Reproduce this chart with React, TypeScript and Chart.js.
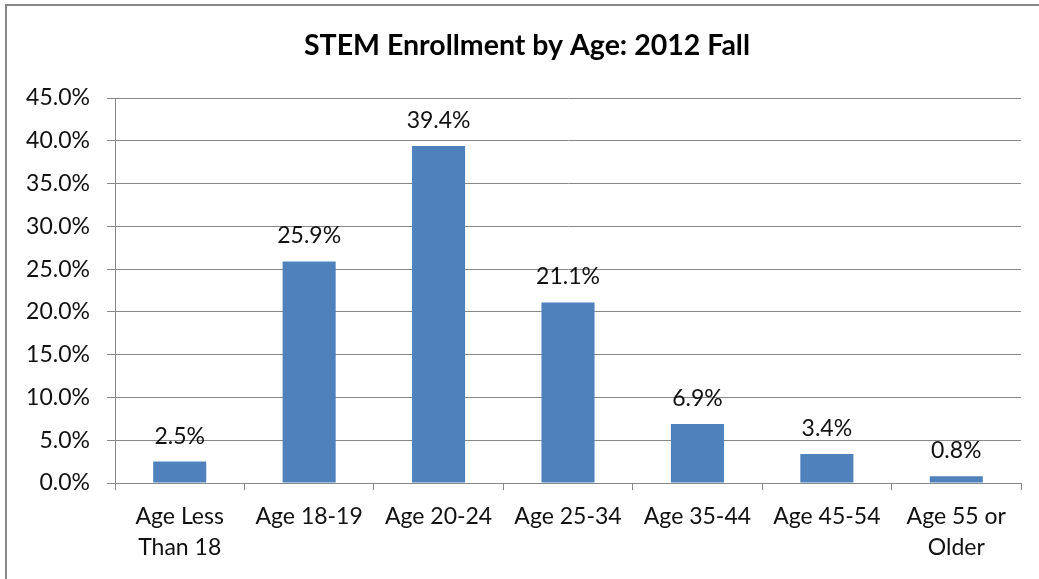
import React, { useEffect, useRef } from "react";
import { Chart, registerables } from "chart.js";

Chart.register(...registerables);

const TITLE = "STEM Enrollment by Age: 2012 Fall";
const categories: (string | string[])[] = [
  ["Age Less", "Than 18"],
  "Age 18-19",
  "Age 20-24",
  "Age 25-34",
  "Age 35-44",
  "Age 45-54",
  ["Age 55 or", "Older"],
];
const values = [2.5, 25.9, 39.4, 21.1, 6.9, 3.4, 0.8];
const yTicks = [0, 5, 10, 15, 20, 25, 30, 35, 40, 45];

const FONT = "Lato, 'Liberation Sans', sans-serif";
const TITLE_FONT = "Lato, 'Liberation Sans', sans-serif";
const GRID = "#888888";
const BAR = "#4F81BD";

export default function App() {
  const ref = useRef<HTMLCanvasElement | null>(null);

  useEffect(() => {
    if (!ref.current) return;
    const labelPlugin = {
      id: "valueLabels",
      afterDatasetsDraw(chart: any) {
        const ctx = chart.ctx;
        const meta = chart.getDatasetMeta(0);
        ctx.save();
        ctx.font = `23px ${FONT}`;
        ctx.fillStyle = "#111111";
        ctx.textAlign = "center";
        ctx.textBaseline = "alphabetic";
        meta.data.forEach((bar: any, i: number) => {
          ctx.fillText(values[i].toFixed(1) + "%", bar.x, bar.y - 18);
        });
        ctx.restore();
      },
    };
    const titlePlugin = {
      id: "customTitle",
      afterDraw(chart: any) {
        const ctx = chart.ctx;
        ctx.save();
        ctx.font = `bold 28.5px ${TITLE_FONT}`;
        ctx.fillStyle = "#000000";
        ctx.textAlign = "center";
        ctx.textBaseline = "alphabetic";
        ctx.fillText(TITLE, 527, 55);
        ctx.restore();
      },
    };
    const chart = new Chart(ref.current, {
      type: "bar",
      data: {
        labels: categories,
        datasets: [
          {
            data: values,
            backgroundColor: BAR,
            borderWidth: 0,
            barPercentage: 0.41,
            categoryPercentage: 1,
          },
        ],
      },
      options: {
        animation: false,
        responsive: false,
        maintainAspectRatio: false,
        devicePixelRatio: 1,
        layout: { padding: { top: 98, right: 18, left: 0, bottom: 0 } },
        plugins: {
          legend: { display: false },
          title: { display: false },
          tooltip: { enabled: false },
        },
        scales: {
          x: {
            grid: {
              offset: true,
              drawOnChartArea: false,
              drawTicks: true,
              tickLength: 7,
              color: GRID,
              lineWidth: 1,
            },
            border: { color: GRID, width: 1 },
            ticks: {
              font: { family: FONT, size: 23, lineHeight: 1.36 },
              color: "#111111",
              padding: 11,
              maxRotation: 0,
              autoSkip: false,
            },
            afterFit(scale: any) {
              scale.height = 96;
            },
          },
          y: {
            min: 0,
            max: 45,
            afterBuildTicks(scale: any) {
              scale.ticks = yTicks.map((v) => ({ value: v }));
            },
            grid: {
              color: GRID,
              lineWidth: 1,
              tickLength: 8,
              drawTicks: true,
            },
            border: { color: GRID, width: 1 },
            ticks: {
              font: { family: FONT, size: 23 },
              color: "#111111",
              padding: 17,
              callback: (v: any) => Number(v).toFixed(1) + "%",
            },
            afterFit(scale: any) {
              scale.width = 115;
            },
          },
        },
      },
      plugins: [labelPlugin, titlePlugin],
    });
    return () => chart.destroy();
  }, []);

  return (
    <div
      style={{
        position: "absolute",
        left: 0,
        top: 0,
        width: 1039,
        height: 579,
        overflow: "hidden",
        background: "#ffffff",
      }}
    >
      <div
        style={{
          position: "absolute",
          left: 5,
          top: 4,
          width: 1200,
          height: 800,
          border: "2px solid #888888",
          boxSizing: "border-box",
        }}
      />
      <canvas
        ref={ref}
        width={1039}
        height={579}
        style={{ position: "absolute", left: 0, top: 0, width: 1039, height: 579 }}
      />
    </div>
  );
}
